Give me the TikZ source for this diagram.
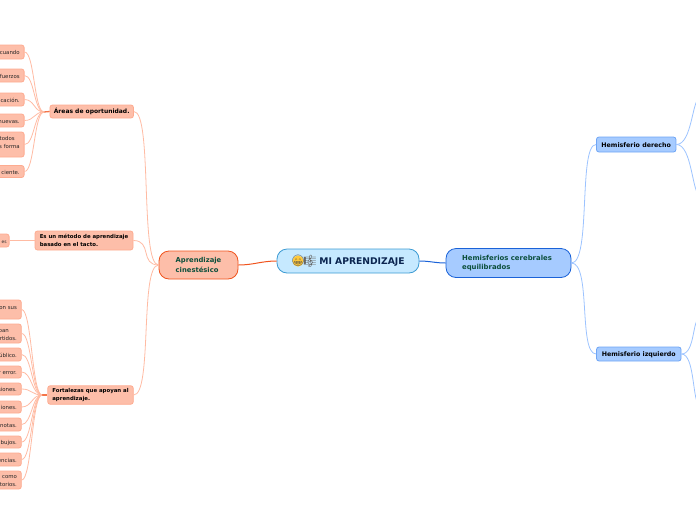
\documentclass[tikz,border=0pt]{standalone}
\usepackage{fontspec}
\setmainfont{DejaVu Sans}
\newfontfamily\emojifont{Noto Emoji}
\usetikzlibrary{arrows.meta,calc,positioning}
\definecolor{Salmon}{HTML}{FDBEA9}
\definecolor{SalmonEdge}{HTML}{FDAB90}
\definecolor{SalmonLine}{HTML}{FFBBA3}
\definecolor{Flame}{HTML}{F0541E}
\definecolor{Sky}{HTML}{C6E9FF}
\definecolor{SkyEdge}{HTML}{3C9BD3}
\definecolor{Blue}{HTML}{A6CBFF}
\definecolor{BlueEdge}{HTML}{1A62D8}
\definecolor{BlueMid}{HTML}{6FA5F5}
\definecolor{BlueLine}{HTML}{9CC3FF}
\definecolor{Navy}{HTML}{0B2550}
\definecolor{Pine}{HTML}{0C4F3C}
\definecolor{Smile}{HTML}{FFC93C}
\begin{document}
\begin{tikzpicture}[x=1pt,y=-1pt,
    lower/.style={execute at begin node={\rule{0pt}{#1}}},
    leafbox/.style={draw=SalmonEdge,fill=Salmon,rounded corners=2.5pt,line width=.8pt,anchor=east,lower=5.6pt,
      text width=70pt,align=right,inner xsep=4.4pt,inner ysep=0pt,font=\fontsize{5.4}{8}\selectfont,text=black!85},
    salbox/.style={draw=SalmonEdge,fill=Salmon,rounded corners=2.5pt,line width=.8pt,align=left,lower=5.6pt,
      inner sep=0pt,font=\bfseries\fontsize{5.4}{7.6}\selectfont},
    hemibox/.style={draw=BlueMid,fill=Blue,rounded corners=2.5pt,line width=.8pt,align=left,lower=6pt,
      inner sep=0pt,font=\bfseries\fontsize{6.3}{7}\selectfont},
    pill/.style={rounded corners=10pt,line width=.8pt,align=left,inner sep=0pt,font=\bfseries},
    salline/.style={draw=SalmonLine,line width=.8pt},
    blueline/.style={draw=BlueLine,line width=.8pt},
    stub/.style={draw=Flame!70!Salmon,line width=1.3pt}]
  \clip(0,0)rectangle(696,520);
  \node[pill,draw=SkyEdge,fill=Sky,text=Navy,minimum width=142,minimum height=24,lower=9pt,
    font=\bfseries\fontsize{9.2}{10}\selectfont](title)at(348,261){\hspace*{28pt}MI APRENDIZAJE};
  \fill[Smile](298,261)circle(5.6);
  \node[inner sep=0pt,font=\emojifont\fontsize{11}{11}\selectfont,text=black!70](face)at(298,261){😁};
  \node[inner sep=0pt,font=\emojifont\fontsize{12}{12}\selectfont,text=black!60](score)at(310,261){🎼};
  \node[pill,draw=Flame,fill=Salmon,text=Pine,minimum width=79,minimum height=28,lower=7.5pt,
    font=\bfseries\fontsize{6.8}{10.4}\selectfont](learn)at(198.5,265){Aprendizaje\\cinestésico};
  \node[pill,draw=BlueEdge,fill=Blue,text=Pine,minimum width=125,minimum height=29,lower=7pt,
    font=\bfseries\fontsize{6.9}{8.4}\selectfont](hemis)at(508.5,263){Hemisferios cerebrales\rule{3pt}{0pt}\\equilibrados};
  \draw[Flame,line width=1pt](learn.east)to[out=0,in=180](title.west);
  \draw[BlueEdge,line width=1pt](title.east)to[out=0,in=180](hemis.west);

  \node[salbox,minimum width=83.5,minimum height=13,font=\bfseries\fontsize{6}{7.6}\selectfont](areas)at(91.7,111.5){Áreas de oportunidad.};
  \node[salbox,minimum width=98,minimum height=19](method)at(84,240.5){Es un método de aprendizaje\\basado en el tacto.};
  \node[salbox,minimum width=85.5,minimum height=18.5](strong)at(90.5,395){Fortalezas que apoyan al\\aprendizaje.};
  \foreach \n in {areas,method,strong}
    \draw[salline](\n.east)..controls +(19,0) and +(-19,0)..(learn.west);

  \coordinate(areashub)at(44,112);
  \coordinate(stronghub)at(42,395);
  \draw[stub](areashub)--(areas.west);
  \draw[stub](stronghub)--(strong.west);

  \foreach \i/\yc/\hg/\txt in {1/52/14/{cuando},2/75.5/13/{fuerzos},3/99.5/13/{cación.},
      4/120.5/13/{nuevas.},5/144.5/25/{todos\rule{5pt}{0pt}\\s forma\\[-4pt]\strut},6/171.5/12/{ciente.}}{
    \node[leafbox,minimum height=\hg](open\i)at(24.5,\yc){\txt};
    \draw[salline](open\i.east)..controls +(10,0) and +(-10,0)..(areashub);}

  \node[leafbox,minimum height=13,font=\fontsize{4.4}{6}\selectfont,inner xsep=2.5pt](touch)at(9.5,240.5){es};
  \draw[salline](touch.east)--(method.west);

  \foreach \i/\yc/\hg/\txt in {1/309.5/19/{on sus\\[-4pt]\strut},2/333.5/19/{ban\rule{8pt}{0pt}\\rtidos.},3/354.5/13/{úblico.},
      4/372/12/{r error.},5/389/12/{siones.},6/407/12/{iones.},7/424.5/13/{notas.},
      8/442/12/{bujos.},9/459.5/13/{encias.},10/480/18/{como\\torios.}}{
    \node[leafbox,minimum height=\hg](good\i)at(21.7,\yc){\txt};
    \draw[salline](good\i.east)..controls +(10,0) and +(-10,0)..(stronghub);}

  \node[hemibox,minimum width=79.5,minimum height=15](right)at(636.2,144.5){Hemisferio derecho};
  \node[hemibox,minimum width=84.5,minimum height=14](left)at(638.8,354){Hemisferio izquierdo};
  \draw[blueline](hemis.east)..controls +(20,0) and +(-18,0)..(right.west);
  \draw[blueline](hemis.east)..controls +(20,0) and +(-18,0)..(left.west);

  \coordinate(rightup)at(700,98);
  \coordinate(rightdown)at(700,195);
  \coordinate(leftup)at(700,318);
  \coordinate(leftdown)at(700,405);
  \foreach \n in {rightup,rightdown}
    \draw[blueline](right.east)..controls +(16,0) and +(-8,0)..(\n);
  \foreach \n in {leftup,leftdown}
    \draw[blueline](left.east)..controls +(14,0) and +(-8,0)..(\n);
\end{tikzpicture}
\end{document}
